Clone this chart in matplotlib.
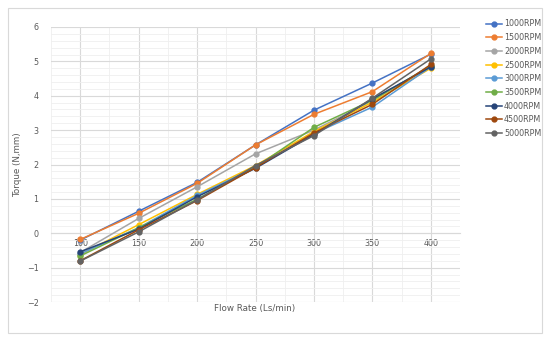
import numpy as np
import matplotlib.pyplot as plt
from matplotlib.patches import Rectangle
from matplotlib.ticker import MultipleLocator

flow = [100, 150, 200, 250, 300, 350, 400]
rpm_labels = ['1000RPM', '1500RPM', '2000RPM', '2500RPM', '3000RPM',
              '3500RPM', '4000RPM', '4500RPM', '5000RPM']
colors = ['#4472C4', '#ED7D31', '#A5A5A5', '#FFC000', '#5B9BD5',
          '#70AD47', '#264478', '#9E480E', '#636363']

t1000 = [-0.20, 0.64, 1.48, 2.57, 3.58, 4.37, 5.21]
t1500 = [-0.18, 0.58, 1.45, 2.57, 3.46, 4.12, 5.23]
t2000 = [-0.56, 0.43, 1.35, 2.31, 3.00, 3.85, 4.88]
t2500 = [-0.62, 0.25, 1.13, 1.97, 2.96, 3.81, 4.80]
t3000 = [-0.60, 0.16, 1.10, 1.92, 2.90, 3.67, 4.84]
t3500 = [-0.66, 0.16, 0.99, 1.92, 3.08, 3.87, 4.87]
t4000 = [-0.54, 0.12, 1.06, 1.89, 2.88, 3.91, 4.84]
t4500 = [-0.80, 0.10, 0.95, 1.91, 2.92, 3.75, 4.91]
t5000 = [-0.81, 0.04, 0.97, 1.97, 2.84, 3.93, 5.07]
series = [t1000, t1500, t2000, t2500, t3000, t3500, t4000, t4500, t5000]

txt = '#595959'
fig = plt.figure(figsize=(5.5, 3.41), dpi=100)
fig.patches.append(Rectangle((8 / 550, 8 / 341), 534 / 550, 325 / 341,
                             transform=fig.transFigure, fill=False,
                             edgecolor='#D9D9D9', linewidth=0.8))
ax = fig.add_axes([51 / 550, 39 / 341, 409 / 550, 275 / 341])

for y, c, lab in zip(series, colors, rpm_labels):
    ax.plot(flow, y, color=c, lw=1.1, marker='o', ms=3.5, label=lab, zorder=3)

ax.set_xlim(75, 425)
ax.set_ylim(-2, 6)
ax.xaxis.set_major_locator(MultipleLocator(50))
ax.xaxis.set_minor_locator(MultipleLocator(25))
ax.yaxis.set_major_locator(MultipleLocator(1))
ax.yaxis.set_minor_locator(MultipleLocator(0.2))
ax.grid(which='major', color='#D9D9D9', lw=0.8)
ax.grid(which='minor', color='#EFEFEF', lw=0.6)
ax.set_axisbelow(True)
for s in ax.spines.values():
    s.set_visible(False)
ax.spines['bottom'].set_visible(True)
ax.spines['bottom'].set_position(('data', 0))
ax.spines['bottom'].set_color('#D9D9D9')
ax.tick_params(which='both', length=0, labelsize=5.8, labelcolor=txt)
ax.tick_params(axis='x', pad=4)
ax.tick_params(axis='y', pad=9)
ax.set_xticks(flow)

fig.text(255 / 550, 1 - 308 / 341, 'Flow Rate (Ls/min)', ha='center', va='center',
         fontsize=6.3, color=txt)
fig.text(18 / 550, 1 - 165 / 341, 'Torque (N,mm)', ha='center', va='center',
         rotation=90, fontsize=6.3, color=txt)

leg = fig.legend(loc='upper left', bbox_to_anchor=(486 / 550, 1 - 19.5 / 341),
                 frameon=False, fontsize=5.8, labelcolor=txt, handlelength=2.0,
                 handletextpad=0.25, labelspacing=0.58, borderaxespad=0,
                 borderpad=0)

fig.savefig('out.png', dpi=100)
